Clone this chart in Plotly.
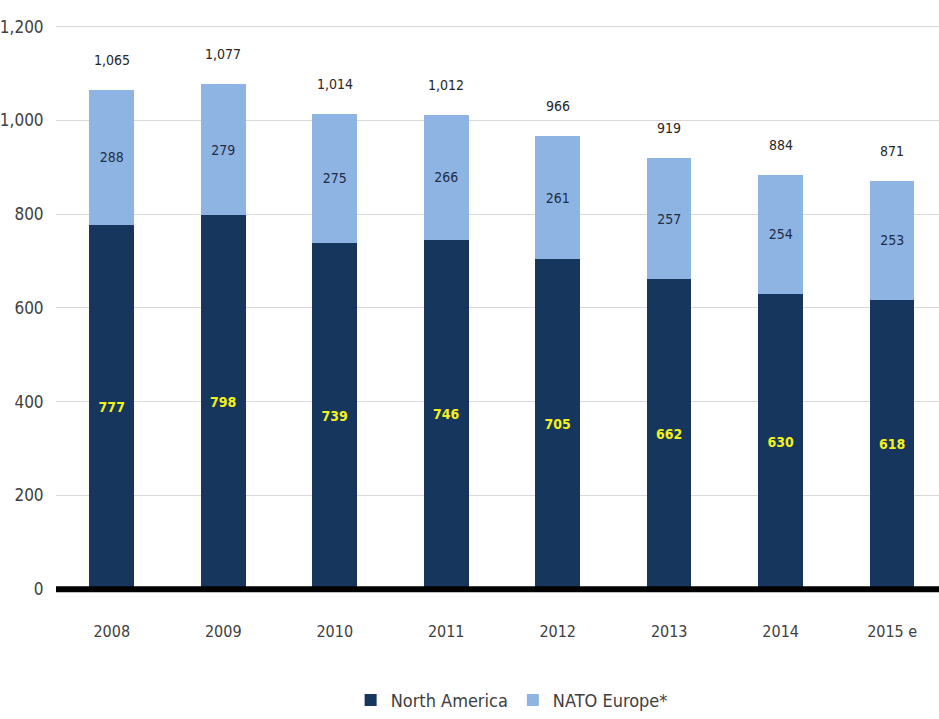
import plotly.graph_objects as go

# Defence expenditure by region (billions), stacked per year
years = ["2008", "2009", "2010", "2011", "2012", "2013", "2014", "2015 e"]
north_america = [777, 798, 739, 746, 705, 662, 630, 618]
nato_europe = [288, 279, 275, 266, 261, 257, 254, 253]
totals = [a + b for a, b in zip(north_america, nato_europe)]
y_ticks = [0, 200, 400, 600, 800, 1000, 1200]

FONT = "DejaVu Sans Condensed, Liberation Sans Narrow, Roboto, sans-serif"
DARK = "#17365d"
LIGHT = "#8eb4e3"

fig = go.Figure()
fig.add_trace(go.Bar(
    name="North America", x=years, y=north_america,
    marker=dict(color=DARK, line=dict(width=0)),
    width=0.4,
    text=[str(v) for v in north_america],
    textposition="inside", insidetextanchor="middle",
    textfont=dict(family=FONT, size=14, color="#f2f21a", weight="bold"),
    textangle=0,
))
fig.add_trace(go.Bar(
    name="NATO Europe*", x=years, y=nato_europe,
    marker=dict(color=LIGHT, line=dict(width=0)),
    width=0.4,
    text=[str(v) for v in nato_europe],
    textposition="inside", insidetextanchor="middle",
    textfont=dict(family=FONT, size=14, color="#1f2d45"),
    textangle=0,
))

# Totals above each stack (x given as category index)
for i, t in enumerate(totals):
    fig.add_annotation(
        x=i, y=t, text=f"{t:,}", showarrow=False,
        yanchor="bottom", yshift=20,
        font=dict(family=FONT, size=14, color="#262626"),
    )

# Heavy baseline at zero
fig.add_shape(type="line", xref="paper", yref="y", x0=0, x1=1, y0=0, y1=0,
              line=dict(color="black", width=6), layer="above")

fig.update_layout(
    width=939, height=719,
    margin=dict(l=56, r=0, t=22, b=122),
    paper_bgcolor="white", plot_bgcolor="white",
    barmode="stack",
    showlegend=True,
    legend=dict(orientation="h", x=0.516, xanchor="center", y=-0.188, yanchor="middle",
                font=dict(family=FONT, size=18, color="#404040"),
                itemwidth=30, traceorder="normal"),
    xaxis=dict(type="category", range=[-0.5, 7.42], showgrid=False, showline=False,
               automargin=False,
               ticks="outside", ticklen=24, tickcolor="rgba(0,0,0,0)",
               tickfont=dict(family=FONT, size=16, color="#404040")),
    yaxis=dict(range=[-8, 1210], tickvals=y_ticks,
               ticktext=[f"{v:,}" for v in y_ticks],
               showgrid=True, gridcolor="#d9d9d9", gridwidth=1,
               zeroline=False, showline=False, automargin=False,
               ticks="outside", ticklen=8, tickcolor="rgba(0,0,0,0)",
               tickfont=dict(family=FONT, size=17, color="#404040")),
)

fig.write_html("out.html")
